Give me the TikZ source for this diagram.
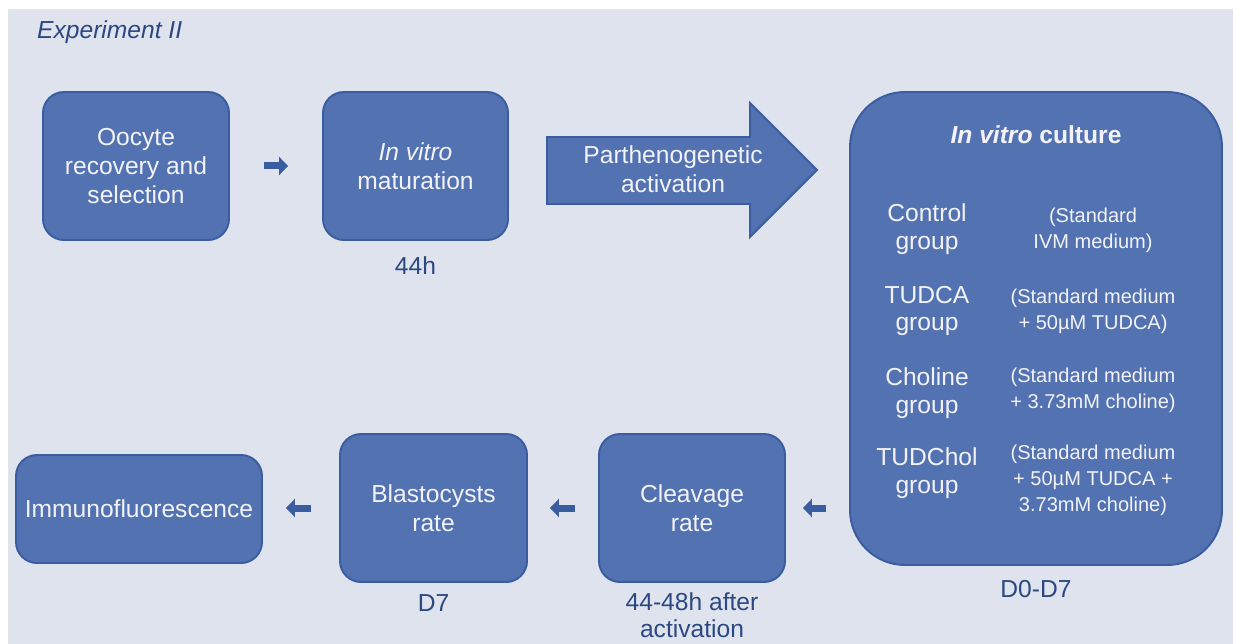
\documentclass[tikz,border=0pt]{standalone}
\usepackage{fontspec}
\setmainfont{Liberation Sans}
\usetikzlibrary{arrows.meta, positioning, calc}
\definecolor{bgblue}{RGB}{222,227,238}
\definecolor{boxblue}{RGB}{82,114,178}
\definecolor{edgeblue}{RGB}{58,92,160}
\definecolor{labelblue}{RGB}{44,72,130}
\definecolor{boxtext}{RGB}{243,243,247}

\begin{document}
\begin{tikzpicture}[
    % Block styles
    stepbox/.style={
        rectangle, draw=edgeblue, fill=boxblue,
        text=boxtext, font=\fontsize{14}{16.5}\selectfont,
        minimum width=3.72cm, minimum height=2.96cm,
        align=center, rounded corners=0.42cm,
        line width=1.1pt, inner sep=1pt
    },
    culturebox/.style={
        rectangle, draw=edgeblue, fill=boxblue,
        minimum width=7.44cm, minimum height=9.46cm,
        rounded corners=1.1cm, line width=1.1pt
    },
    groupname/.style={
        text=boxtext, font=\fontsize{14}{15.8}\selectfont,
        align=center, inner sep=0pt
    },
    groupmedium/.style={
        text=boxtext, font=\fontsize{11.4}{14.8}\selectfont,
        align=center, inner sep=0pt
    },
    timelabel/.style={
        text=labelblue, font=\fontsize{14}{15.5}\selectfont,
        align=center, inner sep=0pt
    },
    bigarrow/.style={
        draw=edgeblue, fill=boxblue, line width=1.1pt, line join=miter
    },
    smallarrow/.style={
        -{Triangle[length=0.18cm, width=0.36cm]},
        line width=0.14cm, draw=edgeblue
    },
]

% ===== CANVAS =====
\useasboundingbox (0,0) rectangle (24.66,-12.88);
\fill[bgblue] (0.16,-0.18) rectangle (24.66,-12.88);

\node[text=labelblue, font=\fontsize{14}{16}\selectfont\itshape, anchor=west] (title) at (0.62,-0.64) {Experiment II};

% ===== TOP ROW =====
\node[stepbox] (oocyte) at (2.72,-3.32) {Oocyte\\recovery and\\selection};
\node[stepbox, minimum width=3.70cm] (ivm) at (8.31,-3.32) {\textit{In vitro}\\maturation};
\node[timelabel, below=0.3cm of ivm] (ivmtime) {44h};

% Parthenogenetic activation arrow
\draw[bigarrow] (10.94,-2.74) -- (15.0,-2.74) -- (15.0,-2.06) -- (16.34,-3.40)
    -- (15.0,-4.74) -- (15.0,-4.08) -- (10.94,-4.08) -- cycle;
\node[text=boxtext, font=\fontsize{14}{16.5}\selectfont, align=center] (parth) at (13.46,-3.38) {Parthenogenetic\\activation};

% ===== IN VITRO CULTURE =====
\node[culturebox] (culture) at (20.72,-6.57) {};
\node[text=boxtext, font=\fontsize{14}{16}\selectfont\bfseries] (culttitle) at (20.72,-2.70) {\textit{In vitro} culture};

\node[groupname] (ctrl) at (18.54,-4.59) {Control\\group};
\node[groupmedium] (ctrlmed) at (21.86,-4.60) {(Standard\\IVM medium)};
\node[groupname] (tudca) at (18.54,-6.22) {TUDCA\\group};
\node[groupmedium] (tudcamed) at (21.86,-6.22) {(Standard medium\\+ 50µM TUDCA)};
\node[groupname] (chol) at (18.54,-7.86) {Choline\\group};
\node[groupmedium] (cholmed) at (21.86,-7.80) {(Standard medium\\+ 3.73mM choline)};
\node[groupname] (tudchol) at (18.54,-9.46) {TUDChol\\group};
\node[groupmedium] (tudcholmed) at (21.86,-9.60) {(Standard medium\\+ 50µM TUDCA +\\3.73mM choline)};

\node[timelabel, below=0.28cm of culture] (culttime) {D0-D7};

% ===== BOTTOM ROW =====
\node[stepbox] (cleavage) at (13.84,-10.16) {Cleavage\\rate};
\node[timelabel, below=0.18cm of cleavage] (cleavtime) {44-48h after\\activation};
\node[stepbox, minimum width=3.74cm] (blast) at (8.67,-10.16) {Blastocysts\\rate};
\node[timelabel, below=0.22cm of blast] (blasttime) {D7};
\node[stepbox, minimum width=4.92cm, minimum height=2.16cm] (immuno) at (2.78,-10.18) {Immunofluorescence};

% ===== ARROWS =====
\draw[smallarrow, shorten <=0.68cm, shorten >=0.68cm] (oocyte) -- (ivm);
\draw[smallarrow, shorten <=0.46cm, shorten >=0.34cm] (cleavage.east -| culture.west) -- (cleavage.east);
\draw[smallarrow, shorten <=0.46cm, shorten >=0.44cm] (cleavage.west) -- (blast.east);
\draw[smallarrow, shorten <=0.56cm, shorten >=0.46cm] (blast.west) -- (immuno.east |- blast.west);

\end{tikzpicture}
\end{document}
